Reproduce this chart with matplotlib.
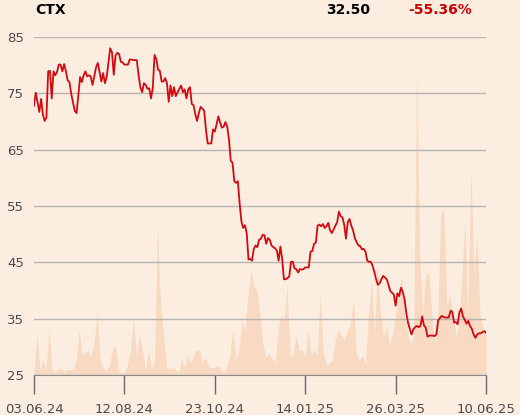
import numpy as np
import matplotlib.pyplot as plt

# closing prices (oldest -> newest)
price = [
    72.8, 75.1, 73.4, 71.7, 74.0, 71.3, 70.1, 70.7, 78.9, 79.0, 74.1, 78.9, 78.2, 78.8,
    80.1, 80.1, 78.9, 80.2, 78.9, 77.3, 77.0, 74.9, 73.4, 71.9, 71.5, 74.6, 77.9, 77.0,
    78.2, 78.9, 78.0, 78.2, 78.0, 76.5, 78.0, 79.6, 80.4, 78.8, 77.1, 78.6, 76.8, 77.9,
    80.5, 83.0, 82.3, 78.3, 81.7, 82.2, 82.0, 80.6, 80.5, 80.1, 80.1, 80.1, 81.0, 81.0,
    80.9, 80.9, 80.9, 78.2, 76.1, 75.2, 76.8, 76.5, 75.8, 75.9, 74.1, 75.9, 81.8, 81.1,
    79.2, 79.0, 77.1, 77.1, 77.7, 76.8, 73.5, 76.4, 74.5, 76.1, 74.5, 75.2, 75.8, 76.4,
    75.2, 75.7, 74.1, 75.7, 76.1, 73.1, 72.9, 71.3, 70.1, 71.5, 72.6, 72.3, 71.9, 68.6,
    66.1, 66.1, 66.1, 68.6, 68.2, 69.5, 70.9, 69.8, 68.9, 69.1, 69.9, 69.1, 66.8, 63.0,
    62.7, 59.4, 59.1, 59.4, 55.5, 52.3, 51.1, 51.6, 50.2, 45.5, 45.6,
    45.3, 47.4, 48.0, 47.7, 49.0, 49.2, 49.9, 49.8, 48.3, 49.3, 49.0, 48.0, 47.7, 47.5,
    47.1, 45.3, 47.8, 45.6, 42.0, 42.0, 42.2, 42.5, 45.1, 45.1, 43.9, 43.8, 43.2, 43.8,
    43.7, 43.8, 44.1, 44.1, 44.1, 46.9, 47.0, 48.3, 48.5, 51.5, 51.7, 51.4, 51.8, 51.1,
    51.4, 52.0, 50.7, 50.2, 50.8, 51.5, 52.1, 54.0, 53.2, 53.0, 51.7, 49.2, 52.1, 52.7,
    51.5, 50.7, 49.3, 48.6, 48.0, 47.9, 47.3, 47.4, 46.9, 45.3, 45.1, 45.1, 44.4, 43.3,
    42.0, 41.0, 41.3, 42.0, 42.6, 42.3, 42.0, 41.0, 39.9, 39.6, 39.3, 37.3, 39.5, 39.0,
    40.5, 39.8, 38.5, 36.1, 34.3, 33.2, 32.2, 33.1, 33.5, 33.7, 33.5, 33.7, 35.4, 33.8,
    33.4, 31.8, 32.0, 32.0, 32.0, 31.9, 32.2, 34.7, 35.1, 35.5, 35.3, 35.2, 35.2, 35.2,
    36.4, 36.2, 34.3, 34.4, 34.0, 36.1, 36.8, 35.4, 34.8, 34.1, 34.6, 33.7, 33.2, 32.2,
    31.6, 32.2, 32.4, 32.4, 32.6, 32.8, 32.5,
]

# traded volume (arbitrary units), sampled evenly across the same period
volume = [
    2, 40, 5, 15, 3, 48, 4, 3, 6, 7, 3, 6, 5, 6, 15, 45, 20, 22, 25, 18,
    35, 62, 12, 7, 4, 10, 25, 30, 6, 2, 2, 10, 25, 55, 20, 40, 25, 5, 25, 5,
    15, 150, 70, 40, 7, 6, 8, 5, 3, 15, 8, 20, 12, 20, 25, 25, 12, 18, 8, 7,
    8, 10, 5, 3, 8, 20, 45, 15, 25, 55, 45, 80, 105, 88, 85, 60, 30, 18, 22, 16,
    13, 45, 60, 55, 90, 20, 20, 40, 25, 25, 18, 45, 20, 25, 20, 80, 22, 10, 12, 15,
    35, 45, 40, 35, 45, 50, 77, 20, 15, 20, 10, 60, 95, 40, 110, 60, 40, 50, 30, 40,
    60, 80, 99, 60, 40, 30, 40, 303, 120, 60, 100, 103, 60, 30, 60, 162, 167, 70, 80, 60,
    40, 50, 100, 155, 60, 207, 100, 143, 60, 45, 40,
]

tick_labels = ['03.06.24', '12.08.24', '23.10.24', '14.01.25', '26.03.25', '10.06.25']
ticker_name = 'CTX'
last_price = '32.50'
change = '-55.36%'

bg = '#fcede1'
red = '#d10a11'
grid_col = '#b8b4b0'
text_col = '#4a4a4a'

n = len(price)
x = np.arange(n)
xv = np.linspace(0, n - 1, len(volume))

fig = plt.figure(figsize=(5.2, 4.15), dpi=100)
fig.patch.set_facecolor(bg)
ax = fig.add_axes([34 / 520, 1 - 375 / 415, 452 / 520, 338 / 415])
ax.set_facecolor(bg)

# volume behind the price line
axv = ax.twinx()
axv.fill_between(xv, volume, 0, color='#f8d6bc', alpha=0.85, lw=0)
axv.set_ylim(0, 338)
axv.axis('off')
ax.set_zorder(axv.get_zorder() + 1)
ax.patch.set_visible(False)

ax.plot(x, price, color=red, lw=1.3, zorder=3)

ax.set_xlim(0, n - 1)
ax.set_ylim(25, 85)
ax.set_yticks([25, 35, 45, 55, 65, 75, 85])
ax.grid(axis='y', color=grid_col, lw=1)
ax.set_axisbelow(True)
ax.set_xticks(np.linspace(0, n - 1, len(tick_labels)))
ax.set_xticklabels(tick_labels)

for s in ['top', 'right', 'left']:
    ax.spines[s].set_visible(False)
ax.spines['bottom'].set_color('#8a8a8a')
ax.tick_params(axis='y', length=0, pad=7, labelsize=9.5, labelcolor=text_col)
ax.tick_params(axis='x', length=14, width=1, color='#6a6a6a', pad=6,
               labelsize=9.5, labelcolor=text_col)

fig.text(35 / 520, 1 - 10 / 415, ticker_name, fontsize=10, fontweight='bold',
         color='black', va='center', ha='left')
fig.text(370 / 520, 1 - 10 / 415, last_price, fontsize=10, fontweight='bold',
         color='black', va='center', ha='right')
fig.text(472 / 520, 1 - 10 / 415, change, fontsize=10, fontweight='bold',
         color='#cc0000', va='center', ha='right')

fig.savefig('out.png', dpi=100, facecolor=bg)
